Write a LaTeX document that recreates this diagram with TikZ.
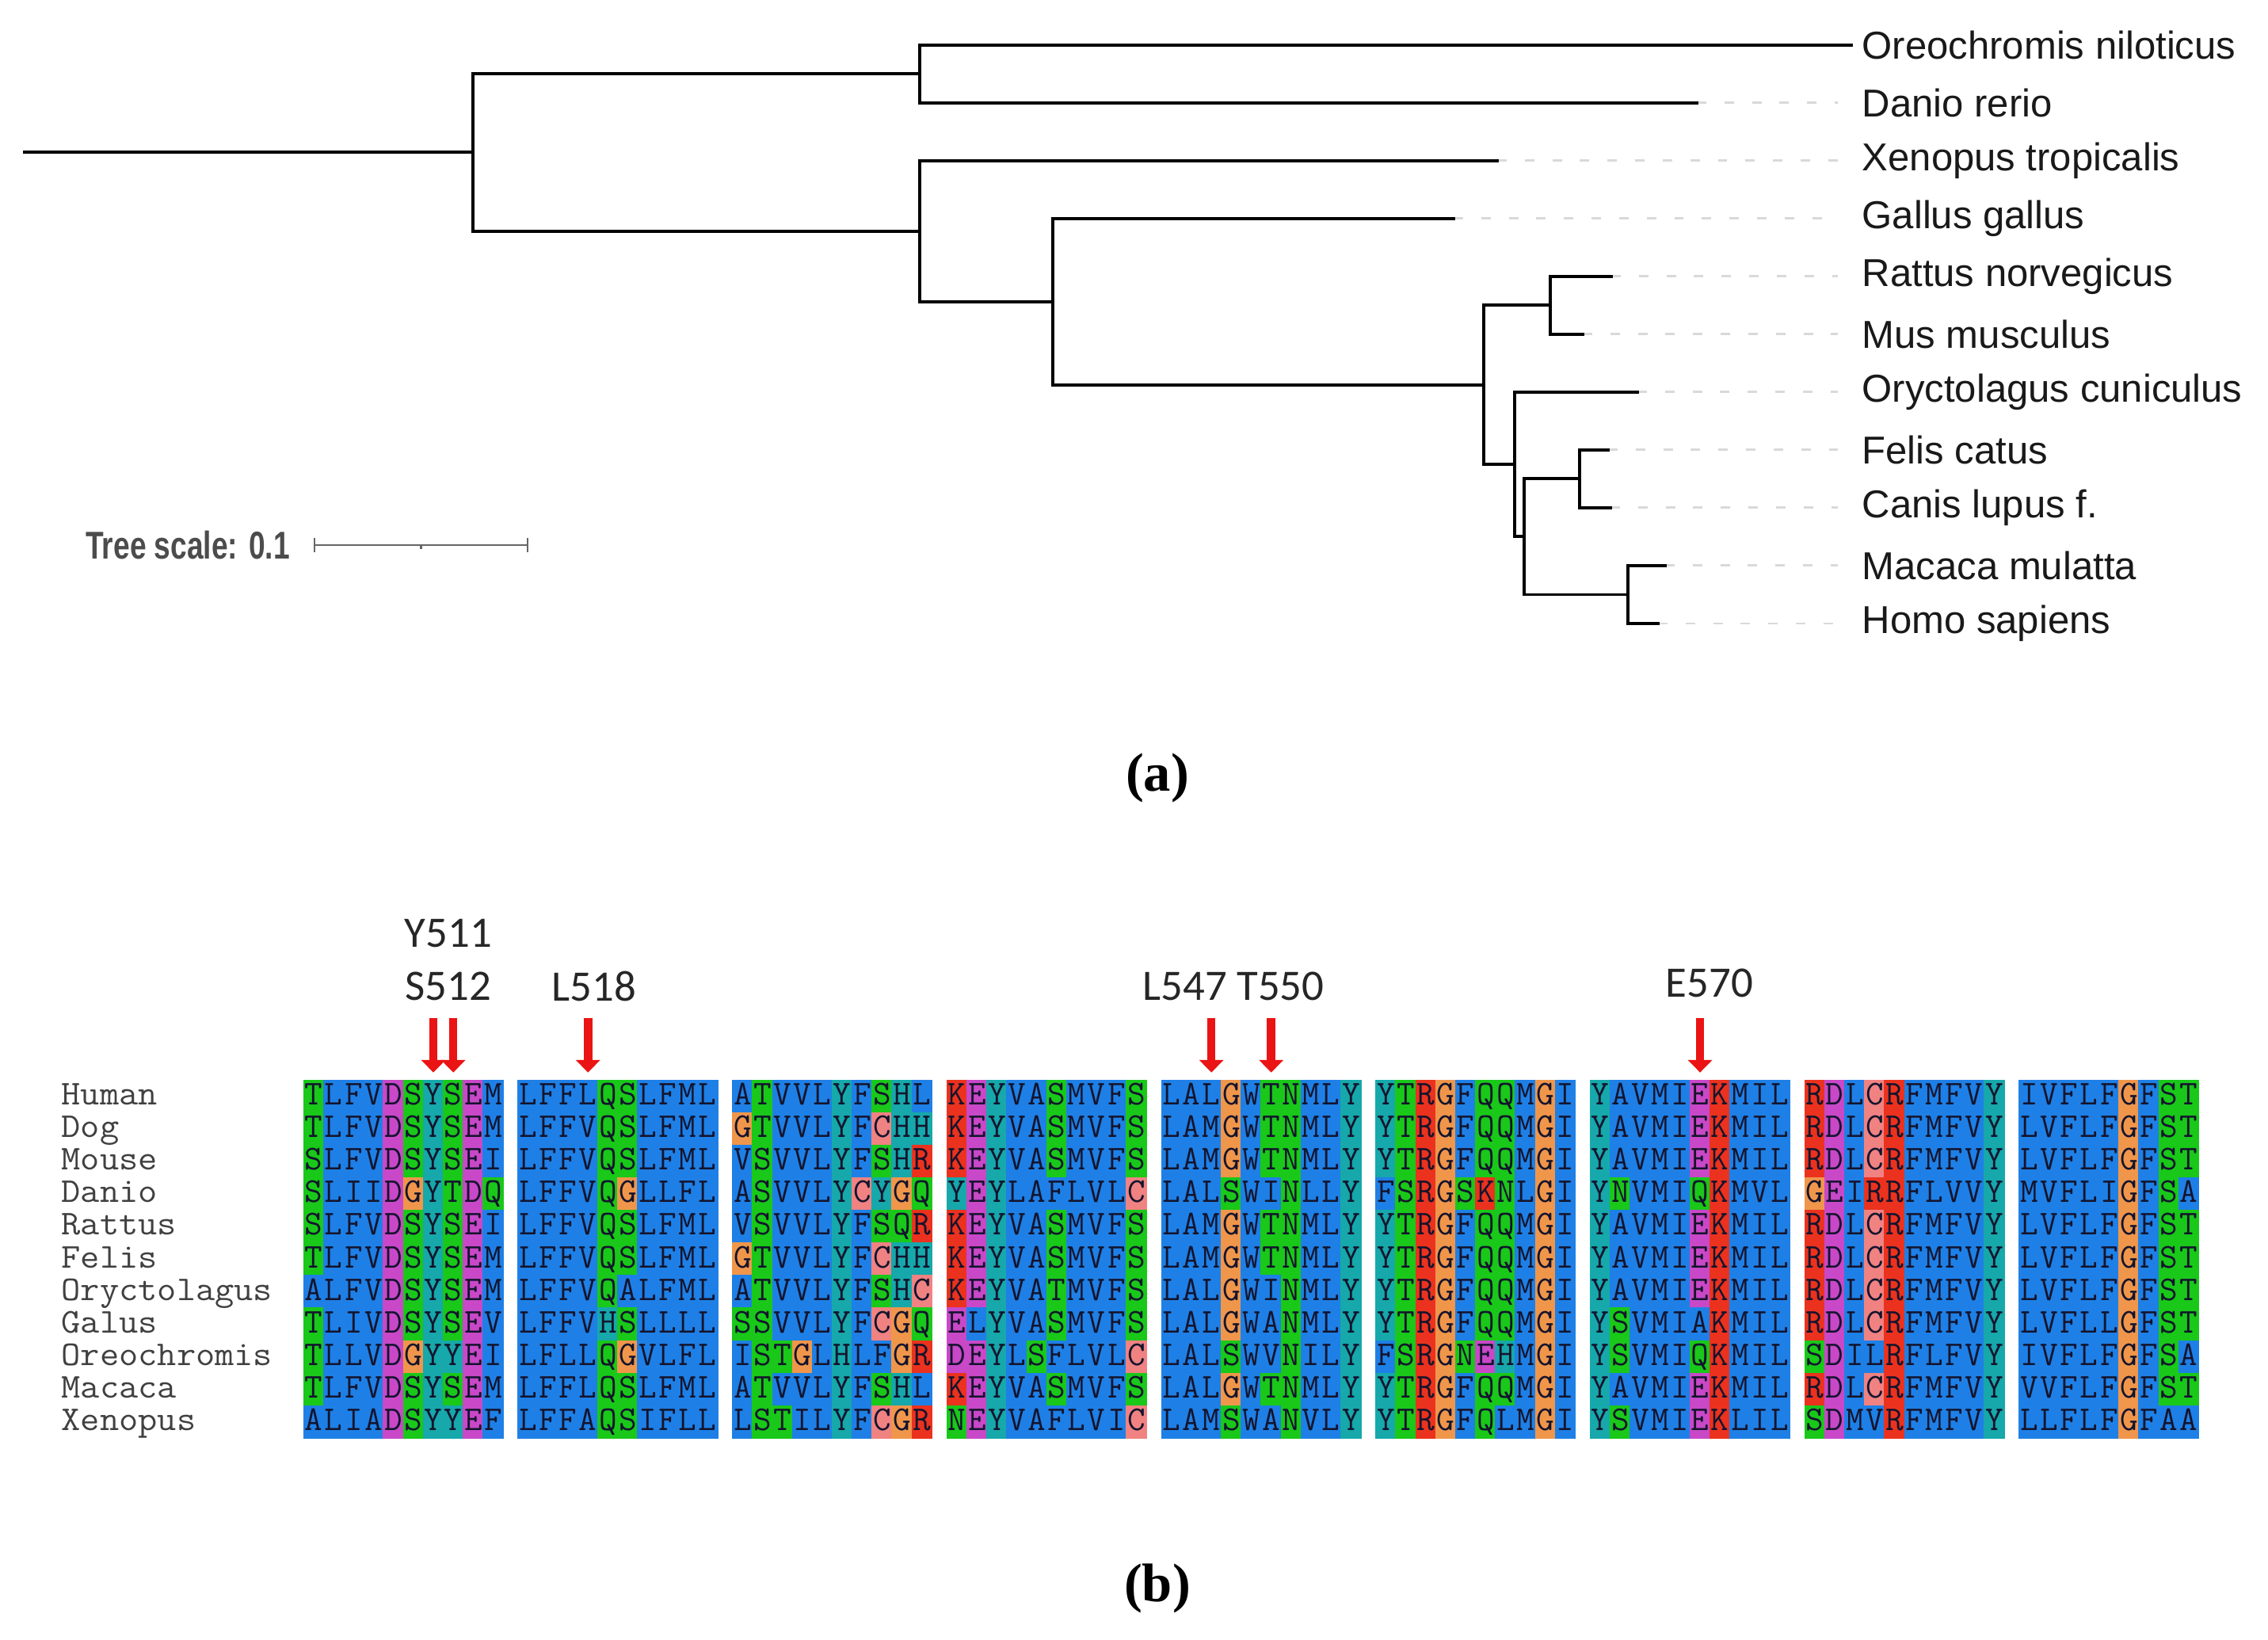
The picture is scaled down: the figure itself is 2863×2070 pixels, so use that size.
\documentclass[tikz,border=0pt]{standalone}
\usepackage{fontspec}
\usepackage{graphicx}
\usepackage{xstring}
\setmainfont{Liberation Sans}
\newfontfamily\sitefont{Carlito}
\newfontfamily\panelfont{Liberation Serif}
\usetikzlibrary{arrows.meta,calc}

\definecolor{hydro}{RGB}{30,128,230}
\definecolor{polar}{RGB}{25,200,25}
\definecolor{acidic}{RGB}{200,72,200}
\definecolor{basic}{RGB}{235,50,30}
\definecolor{arom}{RGB}{22,168,170}
\definecolor{glyc}{RGB}{240,150,75}
\definecolor{cyst}{RGB}{240,130,130}
\definecolor{seqtext}{RGB}{20,20,45}
\definecolor{sitered}{RGB}{235,20,20}

\colorlet{aaA}{hydro}
\colorlet{aaI}{hydro}
\colorlet{aaL}{hydro}
\colorlet{aaM}{hydro}
\colorlet{aaF}{hydro}
\colorlet{aaW}{hydro}
\colorlet{aaV}{hydro}
\colorlet{aaS}{polar}
\colorlet{aaT}{polar}
\colorlet{aaN}{polar}
\colorlet{aaQ}{polar}
\colorlet{aaD}{acidic}
\colorlet{aaE}{acidic}
\colorlet{aaK}{basic}
\colorlet{aaR}{basic}
\colorlet{aaH}{arom}
\colorlet{aaY}{arom}
\colorlet{aaG}{glyc}
\colorlet{aaC}{cyst}

\tikzset{
  branch/.style={line width=1.1pt, line cap=rect},
  leader/.style={draw=black!15, line width=0.8pt, dash pattern=on 3.4pt off 6.5pt},
  leaf/.style={anchor=west, inner sep=0pt, text=black!90,
    font=\fontsize{13.95pt}{16pt}\selectfont},
  scalebar/.style={draw=black!60, line width=0.8pt},
  cell/.style={minimum width=0.2516cm, minimum height=0.411cm, inner sep=0pt,
    line width=0.4pt, text height=0.27cm, text depth=0.06cm, text=seqtext,
    font=\ttfamily\fontsize{12.5pt}{13pt}\selectfont},
  seqname/.style={anchor=west, inner sep=0pt, text height=0.27cm, text depth=0.06cm,
    text=black!75, font=\ttfamily\fontsize{12.5pt}{13pt}\selectfont},
  site/.style={inner sep=0pt, text=black!85, font=\sitefont\fontsize{15.6pt}{17pt}\selectfont},
  sitearrow/.style={draw=sitered, line width=3pt, -{Triangle[width=8.5pt,length=4.5pt]}},
  panel/.style={inner sep=0pt, font=\panelfont\bfseries\fontsize{19.5pt}{21pt}\selectfont}
}

\begin{document}
\begin{tikzpicture}[x=0.01cm,y=-0.01cm]
\useasboundingbox (0,0) rectangle (2863,2070);

% tree
\coordinate (root) at (31,192.4);
\coordinate (nA) at (597,192.4);
\coordinate (nB) at (1161,93.1);
\coordinate (nC) at (1161,291.7);
\coordinate (nD) at (1329,380.7);
\coordinate (nE) at (1873,485.7);
\coordinate (nF) at (1957,385.3);
\coordinate (nG) at (1912,586.1);
\coordinate (nH) at (1924,677.4);
\coordinate (nI) at (1994,604.4);
\coordinate (nJ) at (2055,750.5);
\coordinate (guide) at (2320,0);

\foreach \nm/\tx/\yy/\lab in {oreo/2337/56.6/Oreochromis niloticus,
    danio/2142/129.6/Danio rerio, xeno/1890/202.7/Xenopus tropicalis,
    gallus/1835/275.7/Gallus gallus, rattus/2034/348.8/Rattus norvegicus,
    mus/1998/421.8/Mus musculus, oryct/2067/494.8/Oryctolagus cuniculus,
    felis/2030/567.9/Felis catus, canis/2033/640.9/Canis lupus f.,
    macaca/2102/713.9/Macaca mulatta, homo/2093/787/Homo sapiens}{
  \coordinate (\nm) at (\tx,\yy);
  \node[leaf] (\nm-lab) at (2350,\yy) {\lab};
}
\foreach \nm in {danio,xeno,gallus,rattus,mus,oryct,felis,canis,macaca,homo}
  \draw[leader] (\nm) -- (\nm -| guide);

\draw[branch] (root) -- (nA);
\foreach \p/\q in {nA/nB,nA/nC,nB/oreo,nB/danio,nC/xeno,nC/nD,nD/gallus,nD/nE,
    nE/nF,nE/nG,nF/rattus,nF/mus,nG/oryct,nG/nH,nH/nI,nH/nJ,nI/felis,nI/canis,
    nJ/macaca,nJ/homo}
  \draw[branch] (\p) |- (\q);

\node[inner sep=0pt, text=black!70, font=\bfseries\fontsize{13.9pt}{15pt}\selectfont]
  (scale-lab) at (237,688) {\scalebox{0.76}[1]{Tree scale: 0.1}};
\coordinate (bar-l) at (397,688);
\coordinate (bar-r) at (666,688);
\draw[scalebar] (bar-l) -- (bar-r);
\draw[scalebar] ($(bar-l)+(0,-9)$) -- ($(bar-l)+(0,9)$);
\draw[scalebar] ($(bar-r)+(0,-9)$) -- ($(bar-r)+(0,9)$);
\draw[scalebar] ($(bar-l)!0.5!(bar-r)$) -- +(0,5);

\node[panel] (panel-a) at (1461,982) {(a)};

% alignment
\foreach \nm/\row [count=\r] in {
  Human/{TLFVDSYSEM,LFFLQSLFML,ATVVLYFSHL,KEYVASMVFS,LALGWTNMLY,YTRGFQQMGI,YAVMIEKMIL,RDLCRFMFVY,IVFLFGFST},
  Dog/{TLFVDSYSEM,LFFVQSLFML,GTVVLYFCHH,KEYVASMVFS,LAMGWTNMLY,YTRGFQQMGI,YAVMIEKMIL,RDLCRFMFVY,LVFLFGFST},
  Mouse/{SLFVDSYSEI,LFFVQSLFML,VSVVLYFSHR,KEYVASMVFS,LAMGWTNMLY,YTRGFQQMGI,YAVMIEKMIL,RDLCRFMFVY,LVFLFGFST},
  Danio/{SLIIDGYTDQ,LFFVQGLLFL,ASVVLYCYGQ,YEYLAFLVLC,LALSWINLLY,FSRGSKNLGI,YNVMIQKMVL,GEIRRFLVVY,MVFLIGFSA},
  Rattus/{SLFVDSYSEI,LFFVQSLFML,VSVVLYFSQR,KEYVASMVFS,LAMGWTNMLY,YTRGFQQMGI,YAVMIEKMIL,RDLCRFMFVY,LVFLFGFST},
  Felis/{TLFVDSYSEM,LFFVQSLFML,GTVVLYFCHH,KEYVASMVFS,LAMGWTNMLY,YTRGFQQMGI,YAVMIEKMIL,RDLCRFMFVY,LVFLFGFST},
  Oryctolagus/{ALFVDSYSEM,LFFVQALFML,ATVVLYFSHC,KEYVATMVFS,LALGWINMLY,YTRGFQQMGI,YAVMIEKMIL,RDLCRFMFVY,LVFLFGFST},
  Galus/{TLIVDSYSEV,LFFVHSLLLL,SSVVLYFCGQ,ELYVASMVFS,LALGWANMLY,YTRGFQQMGI,YSVMIAKMIL,RDLCRFMFVY,LVFLLGFST},
  Oreochromis/{TLLVDGYYEI,LFLLQGVLFL,ISTGLHLFGR,DEYLSFLVLC,LALSWVNILY,FSRGNEHMGI,YSVMIQKMIL,SDILRFLFVY,IVFLFGFSA},
  Macaca/{TLFVDSYSEM,LFFLQSLFML,ATVVLYFSHL,KEYVASMVFS,LALGWTNMLY,YTRGFQQMGI,YAVMIEKMIL,RDLCRFMFVY,VVFLFGFST},
  Xenopus/{ALIADSYYEF,LFFAQSIFLL,LSTILYFCGR,NEYVAFLVIC,LAMSWANVLY,YTRGFQLMGI,YSVMIEKLIL,SDMVRFMFVY,LLFLFGFAA}}{
  \node[seqname] (name-\r) at (77,{1384+(\r-1)*41.1}) {\scalebox{1.07}[1]{\nm}};
  \foreach \blk [count=\b] in \row {
    \StrLen{\blk}[\len]
    \foreach \c in {1,...,\len} {
      \StrChar{\blk}{\c}[\res]
      \node[cell, fill=aa\res, draw=aa\res] (c-\r-\b-\c)
        at ({383.5+(\b-1)*270.7+(\c-0.5)*25.16},{1384+(\r-1)*41.1}) {\res};
    }
  }
}

% marked sites
\foreach \cl in {c-1-1-7,c-1-1-8,c-1-2-4,c-1-5-3,c-1-5-6,c-1-7-6}
  \draw[sitearrow] ($(\cl.north)+(0,-78)$) -- ($(\cl.north)+(0,-9)$);

\node[site] (lab-y511) at (566,1178) {Y511};
\node[site] (lab-s512) at (566,1245) {S512};
\node[site] (lab-l518) at (750,1245) {L518};
\node[site] (lab-l547) at (1557,1245) {L547 T550};
\node[site] (lab-e570) at (2158,1241) {E570};

\node[panel] (panel-b) at (1461,2005) {(b)};
\end{tikzpicture}
\end{document}
